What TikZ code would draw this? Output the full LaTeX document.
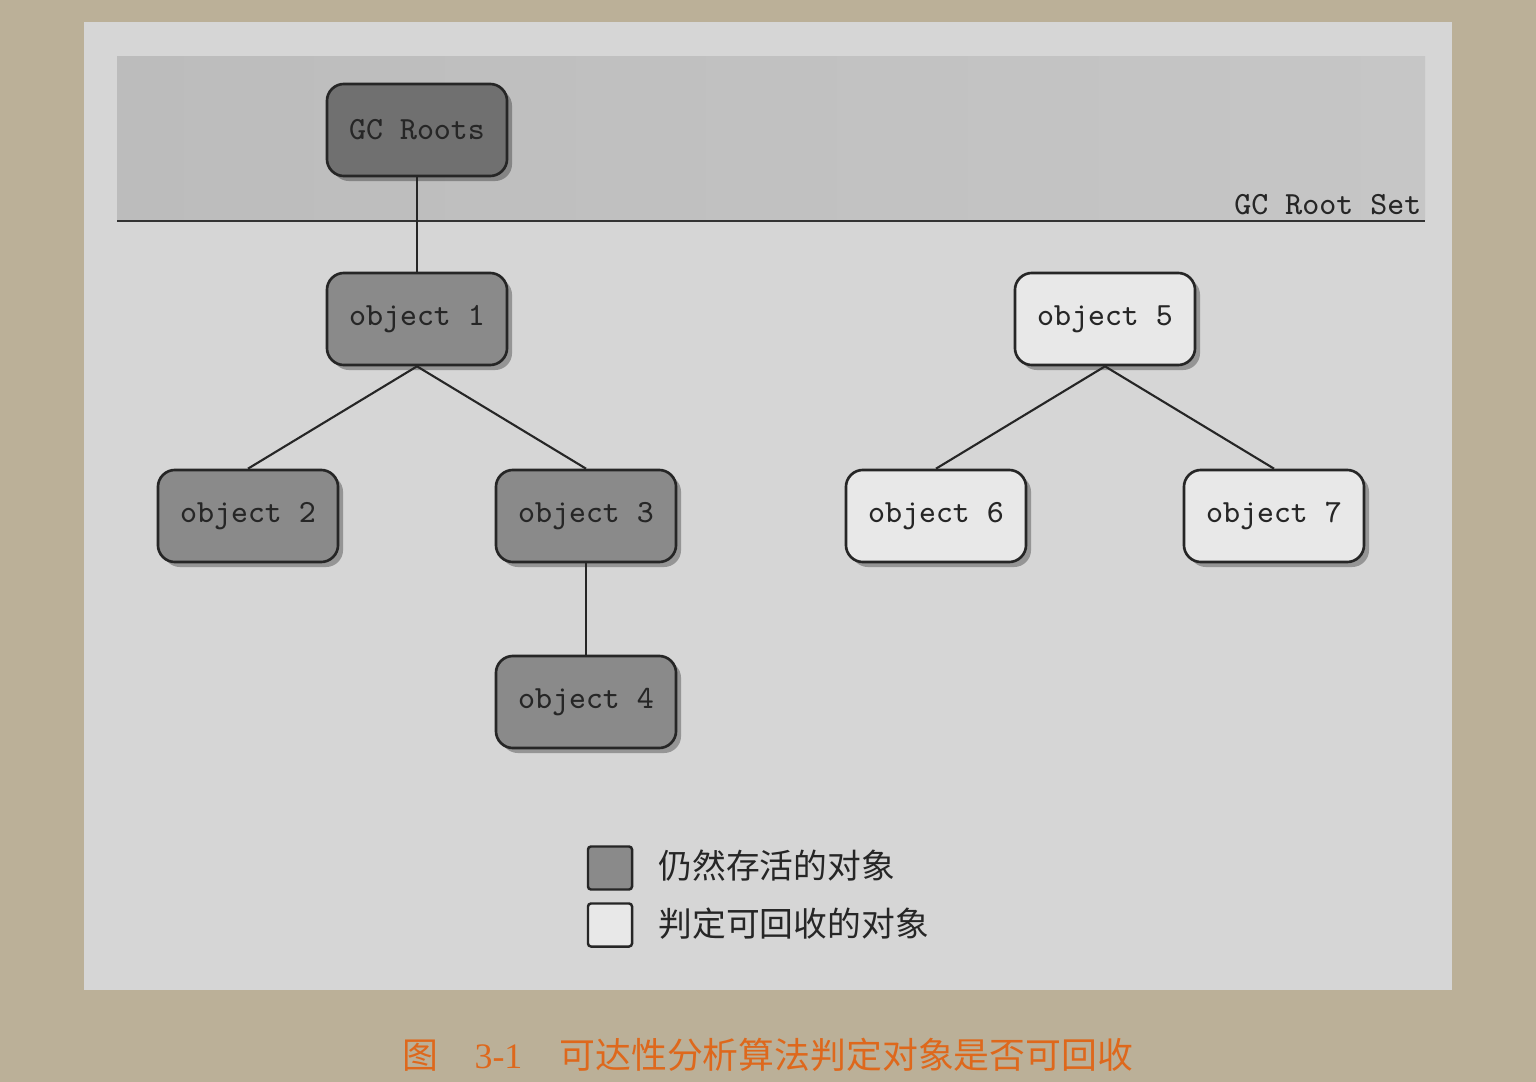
\documentclass[tikz,border=0pt]{standalone}
\usepackage{fontspec}
\usetikzlibrary{shadows}
\newfontfamily\cjk{Noto Sans CJK SC}
\newfontfamily\capserif{Liberation Serif}

\definecolor{paper}{RGB}{187,176,152}
\definecolor{panel}{RGB}{214,214,214}
\definecolor{bandL}{RGB}{188,188,188}
\definecolor{bandR}{RGB}{198,198,198}
\definecolor{rootfill}{RGB}{112,112,112}
\definecolor{livefill}{RGB}{138,138,138}
\definecolor{deadfill}{RGB}{232,232,232}
\definecolor{captionc}{RGB}{222,104,28}

\tikzset{
  labelfont/.style={font=\ttfamily\fontsize{9.2}{11}\selectfont, text=black!85},
  objbox/.style={draw=black!85, line width=0.75pt, rounded corners=0.17cm,
    minimum width=1.8cm, minimum height=0.92cm, inner sep=0pt, labelfont,
    drop shadow={shadow xshift=0.05cm, shadow yshift=-0.05cm, opacity=0.3, fill=black}},
  livebox/.style={objbox, fill=livefill},
  rootbox/.style={objbox, fill=rootfill},
  deadbox/.style={objbox, fill=deadfill},
  ref/.style={draw=black!85, line width=0.6pt},
  legendsq/.style={draw=black!85, line width=0.7pt, rounded corners=0.03cm,
    minimum width=0.44cm, minimum height=0.43cm, inner sep=0pt},
  legendtxt/.style={anchor=west, inner sep=0pt, font=\cjk\fontsize{9.6}{11}\selectfont, text=black!85}
}

\begin{document}
\begin{tikzpicture}[x=0.01cm, y=0.01cm]
  \useasboundingbox (0,0) rectangle (1536,-1082);
  % page background and figure panel
  \fill[paper] (0,0) rectangle (1536,-1082);
  \fill[panel] (84,-22) rectangle (1452,-990);
  % root set band
  \shade[left color=bandL, right color=bandR] (117,-57) rectangle (1425,-221);
  \draw[black!80, line width=0.6pt] (117,-221) -- (1425,-221);
  \node[anchor=south east, inner sep=0pt, labelfont] (rootset) at (1422,-216) {GC Root Set};

  % objects
  \node[rootbox] (gc) at (417,-130) {GC Roots};
  \node[livebox] (o1) at (417,-319) {object 1};
  \node[livebox] (o2) at (248,-516) {object 2};
  \node[livebox] (o3) at (586,-516) {object 3};
  \node[livebox] (o4) at (586,-702) {object 4};
  \node[deadbox] (o5) at (1105,-319) {object 5};
  \node[deadbox] (o6) at (936,-516) {object 6};
  \node[deadbox] (o7) at (1274,-516) {object 7};

  % references
  \draw[ref] (gc.south) -- (o1.north);
  \draw[ref] (o1.south) -- (o2.north);
  \draw[ref] (o1.south) -- (o3.north);
  \draw[ref] (o3.south) -- (o4.north);
  \draw[ref] (o5.south) -- (o6.north);
  \draw[ref] (o5.south) -- (o7.north);

  % legend
  \node[legendsq, fill=livefill] (lg1) at (610,-868) {};
  \node[legendsq, fill=deadfill] (lg2) at (610,-925) {};
  \node[legendtxt] (lt1) at (658,-866) {仍然存活的对象};
  \node[legendtxt] (lt2) at (658,-924) {判定可回收的对象};

  % caption
  \node[inner sep=0pt, text=captionc, font=\cjk\fontsize{10.2}{12}\selectfont] (cap) at (768,-1055)
    {图\hspace{0.36cm}{\capserif 3-1}\hspace{0.37cm}可达性分析算法判定对象是否可回收};
\end{tikzpicture}
\end{document}
